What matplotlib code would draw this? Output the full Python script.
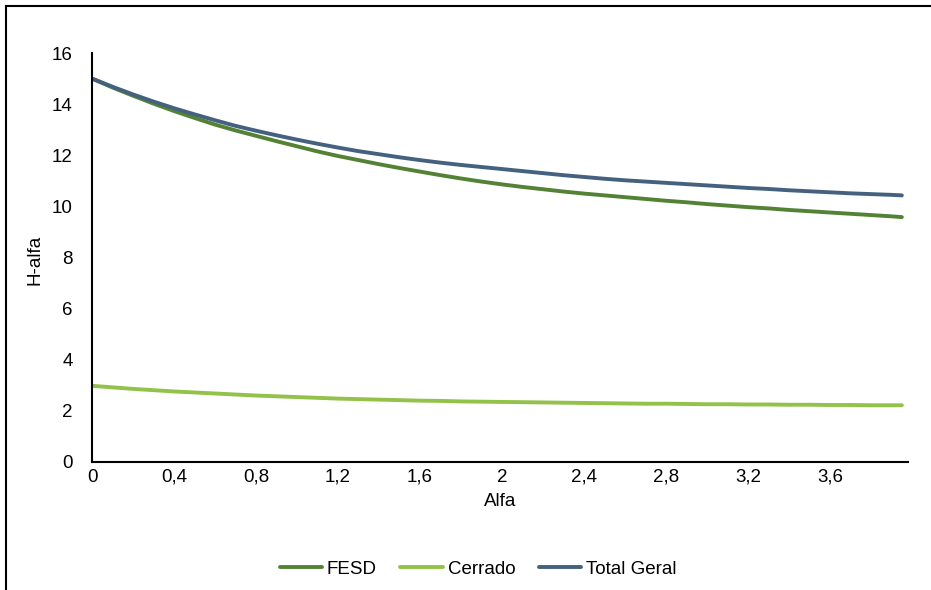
import matplotlib
matplotlib.use("Agg")
import matplotlib.pyplot as plt
from matplotlib.lines import Line2D

plt.rcParams['font.family'] = ['Liberation Sans', 'DejaVu Sans']

alfa = [0.0, 0.1, 0.2, 0.3, 0.4, 0.5, 0.6, 0.7, 0.8, 0.9,
        1.0, 1.1, 1.2, 1.3, 1.4, 1.5, 1.6, 1.7, 1.8, 1.9,
        2.0, 2.1, 2.2, 2.3, 2.4, 2.5, 2.6, 2.7, 2.8, 2.9,
        3.0, 3.1, 3.2, 3.3, 3.4, 3.5, 3.6, 3.7, 3.8, 3.9, 3.95]

fesd = [15.00, 14.65, 14.33, 14.02, 13.73, 13.46, 13.20, 12.97, 12.76, 12.55,
        12.35, 12.15, 11.97, 11.81, 11.65, 11.50, 11.36, 11.22, 11.09, 10.97,
        10.86, 10.76, 10.67, 10.58, 10.50, 10.43, 10.36, 10.29, 10.22, 10.16,
        10.09, 10.03, 9.97, 9.92, 9.86, 9.81, 9.76, 9.71, 9.66, 9.61, 9.58]

cerrado = [2.98, 2.92, 2.86, 2.81, 2.76, 2.72, 2.68, 2.64, 2.60, 2.57,
           2.54, 2.51, 2.48, 2.46, 2.44, 2.42, 2.40, 2.39, 2.37, 2.36,
           2.35, 2.34, 2.33, 2.32, 2.31, 2.30, 2.29, 2.28, 2.28, 2.27,
           2.26, 2.26, 2.25, 2.25, 2.24, 2.24, 2.23, 2.23, 2.22, 2.22, 2.22]

total_geral = [15.00, 14.68, 14.38, 14.10, 13.84, 13.60, 13.37, 13.15, 12.96, 12.78,
               12.61, 12.45, 12.30, 12.16, 12.04, 11.92, 11.81, 11.71, 11.62, 11.54,
               11.46, 11.38, 11.30, 11.22, 11.15, 11.08, 11.02, 10.97, 10.92, 10.87,
               10.82, 10.77, 10.72, 10.68, 10.63, 10.59, 10.55, 10.51, 10.48, 10.45, 10.43]

x_ticks = [0, 0.4, 0.8, 1.2, 1.6, 2.0, 2.4, 2.8, 3.2, 3.6]
x_tick_labels = ['0', '0,4', '0,8', '1,2', '1,6', '2', '2,4', '2,8', '3,2', '3,6']
y_ticks = [0, 2, 4, 6, 8, 10, 12, 14, 16]

FS = 13.5

fig = plt.figure(figsize=(9.31, 5.90), dpi=100)
ax = fig.add_axes([92/931, 1 - 462/590, (908 - 92)/931, (462 - 53)/590])

c_fesd = '#548235'
c_cerr = '#92C24A'
c_tot = '#44617F'

ax.plot(alfa, fesd, color=c_fesd, lw=2.8, solid_capstyle='round', label='FESD')
ax.plot(alfa, cerrado, color=c_cerr, lw=2.8, solid_capstyle='round', label='Cerrado')
ax.plot(alfa, total_geral, color=c_tot, lw=2.8, solid_capstyle='round', label='Total Geral')

ax.set_xlim(0, 3.98)
ax.set_ylim(0, 16)
ax.set_xticks(x_ticks)
ax.set_xticklabels(x_tick_labels)
ax.set_yticks(y_ticks)
ax.tick_params(axis='both', length=0, labelsize=FS, colors='black')
ax.tick_params(axis='y', pad=14)
ax.tick_params(axis='x', pad=5)

for s in ['top', 'right']:
    ax.spines[s].set_visible(False)
for s in ['left', 'bottom']:
    ax.spines[s].set_color('black')
    ax.spines[s].set_linewidth(1.5)

ax.set_xlabel('Alfa', fontsize=FS)
ax.set_ylabel('H-alfa', fontsize=FS)
ax.xaxis.set_label_coords(0.5, -(502 - 462) / 409, transform=ax.transAxes)
ax.yaxis.set_label_coords(-(92 - 35) / 816, (462 - 260) / 409, transform=ax.transAxes)
ax.xaxis.label.set_va('center')
ax.yaxis.label.set_va('center')

leg = fig.legend(loc='center', bbox_to_anchor=(478/931, 1 - 569/590), ncol=3,
                 frameon=False, fontsize=FS, handlelength=2.25, handletextpad=0.27,
                 columnspacing=1.25)

# outer border (left and top visible)
fig.add_artist(Line2D([6/931, 6/931], [0, 1 - 6/590], transform=fig.transFigure,
                      color='black', lw=1.5))
fig.add_artist(Line2D([6/931, 1], [1 - 6/590, 1 - 6/590], transform=fig.transFigure,
                      color='black', lw=1.5))

fig.savefig('out.png', dpi=100)
